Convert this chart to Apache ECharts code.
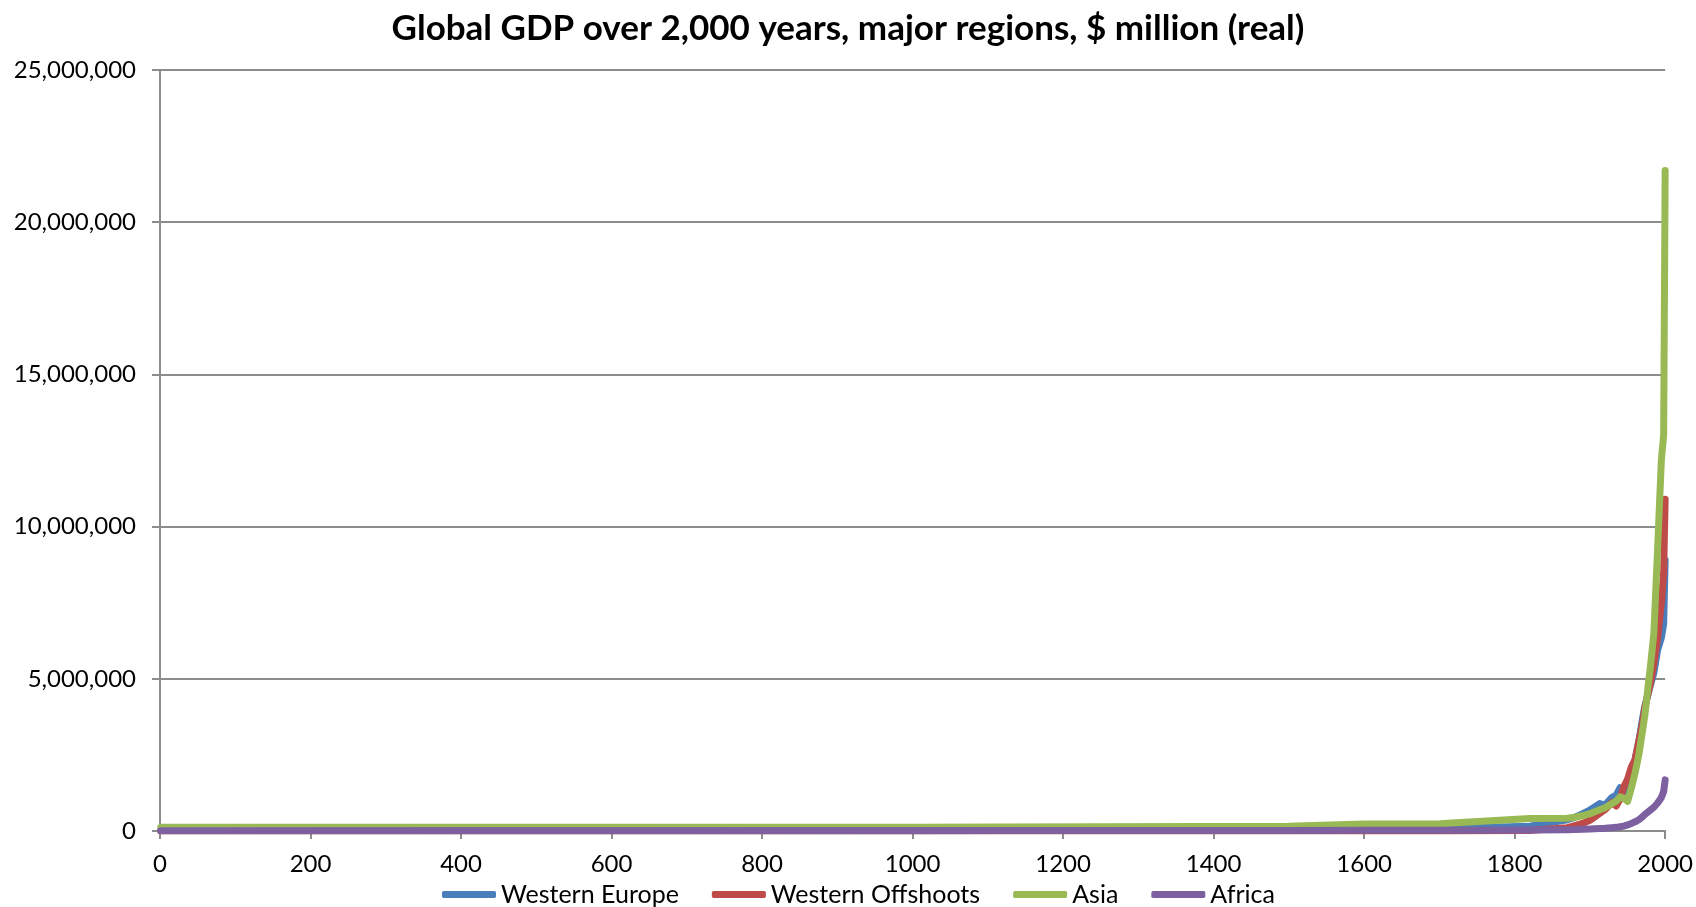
<!DOCTYPE html>
<html>
<head>
<meta charset="utf-8">
<script src="https://cdn.jsdelivr.net/npm/echarts@6/dist/echarts.min.js"></script>
<style>
html,body{margin:0;padding:0;background:#fff;}
#chart{width:1696px;height:907px;}
</style>
</head>
<body>
<div id="chart"></div>
<script>
// Years (x values)
const years = [1, 1000, 1500, 1600, 1700, 1820, 1870, 1880, 1890, 1900, 1913, 1920, 1929, 1935, 1940, 1945, 1950, 1955, 1960, 1965, 1970, 1973, 1978, 1980, 1985, 1990, 1995, 1998, 2000];

// GDP, $ million (real)
const westernEurope = [14000, 11000, 44000, 66000, 81000, 160000, 370000, 450000, 560000, 690000, 900000, 850000, 1100000, 1180000, 1420000, 1150000, 1400000, 1850000, 2350000, 2950000, 3700000, 4100000, 4550000, 4750000, 5200000, 5950000, 6350000, 6800000, 8900000];
const westernOffshoots = [500, 800, 1100, 1100, 1100, 14000, 111000, 180000, 250000, 350000, 580000, 700000, 930000, 820000, 1050000, 1450000, 1700000, 2100000, 2350000, 2950000, 3550000, 4050000, 4600000, 4800000, 5500000, 6350000, 7500000, 8500000, 10900000];
const asia = [120000, 125000, 160000, 230000, 235000, 410000, 420000, 450000, 500000, 570000, 700000, 760000, 900000, 980000, 1120000, 1080000, 970000, 1400000, 1900000, 2500000, 3300000, 3800000, 4900000, 5300000, 6500000, 9300000, 12200000, 13000000, 21700000];
const africa = [8000, 14000, 19000, 23000, 26000, 31000, 45000, 50000, 57000, 65000, 80000, 90000, 110000, 120000, 140000, 160000, 200000, 250000, 300000, 370000, 470000, 540000, 640000, 700000, 780000, 920000, 1100000, 1300000, 1680000];

const seriesNames = ['Western Europe', 'Western Offshoots', 'Asia', 'Africa'];
const seriesValues = [westernEurope, westernOffshoots, asia, africa];
const colors = ['#4a7ebb', '#be4b48', '#98b954', '#7d60a0'];

const FONT = 'Lato, "Liberation Sans", sans-serif';
const axisGray = '#8c8c8c';

const chart = echarts.init(document.getElementById('chart'), null, {renderer: 'canvas'});

chart.setOption({
  backgroundColor: '#ffffff',
  animation: false,
  color: colors,
  title: {
    text: 'Global GDP over 2,000 years, major regions, $ million (real)',
    left: 'center',
    top: 11,
    padding: 0,
    textStyle: {fontFamily: FONT, fontWeight: 'bold', fontSize: 35, color: '#000'}
  },
  legend: {
    data: seriesNames,
    left: 437,
    top: 877,
    itemGap: 33,
    itemWidth: 54,
    itemHeight: 7,
    icon: 'roundRect',
    textStyle: {fontFamily: FONT, fontSize: 25, color: '#000'}
  },
  grid: {left: 160, right: 30, top: 70, bottom: 76, containLabel: false},
  xAxis: {
    type: 'value',
    min: 0,
    max: 2000,
    interval: 200,
    axisLine: {show: true, lineStyle: {color: axisGray, width: 2}},
    axisTick: {show: true, inside: false, length: 8, lineStyle: {color: axisGray, width: 2}},
    splitLine: {show: false},
    axisLabel: {fontFamily: FONT, fontSize: 24, color: '#000', margin: 21, formatter: v => String(v)}
  },
  yAxis: {
    type: 'value',
    min: 0,
    max: 25000000,
    interval: 5000000,
    axisLine: {show: true, lineStyle: {color: axisGray, width: 2}},
    axisTick: {show: true, inside: false, length: 8, lineStyle: {color: axisGray, width: 2}},
    splitLine: {show: true, lineStyle: {color: axisGray, width: 2}},
    axisLabel: {
      fontFamily: FONT, fontSize: 24, color: '#000', margin: 24,
      formatter: v => v.toLocaleString('en-US')
    }
  },
  series: seriesNames.map((name, i) => ({
    name: name,
    type: 'line',
    data: years.map((y, j) => [y, seriesValues[i][j]]),
    showSymbol: false,
    symbol: 'none',
    smooth: false,
    lineStyle: {width: 7, color: colors[i], cap: 'round', join: 'round'},
    itemStyle: {color: colors[i]},
    clip: true
  }))
});
</script>
</body>
</html>
